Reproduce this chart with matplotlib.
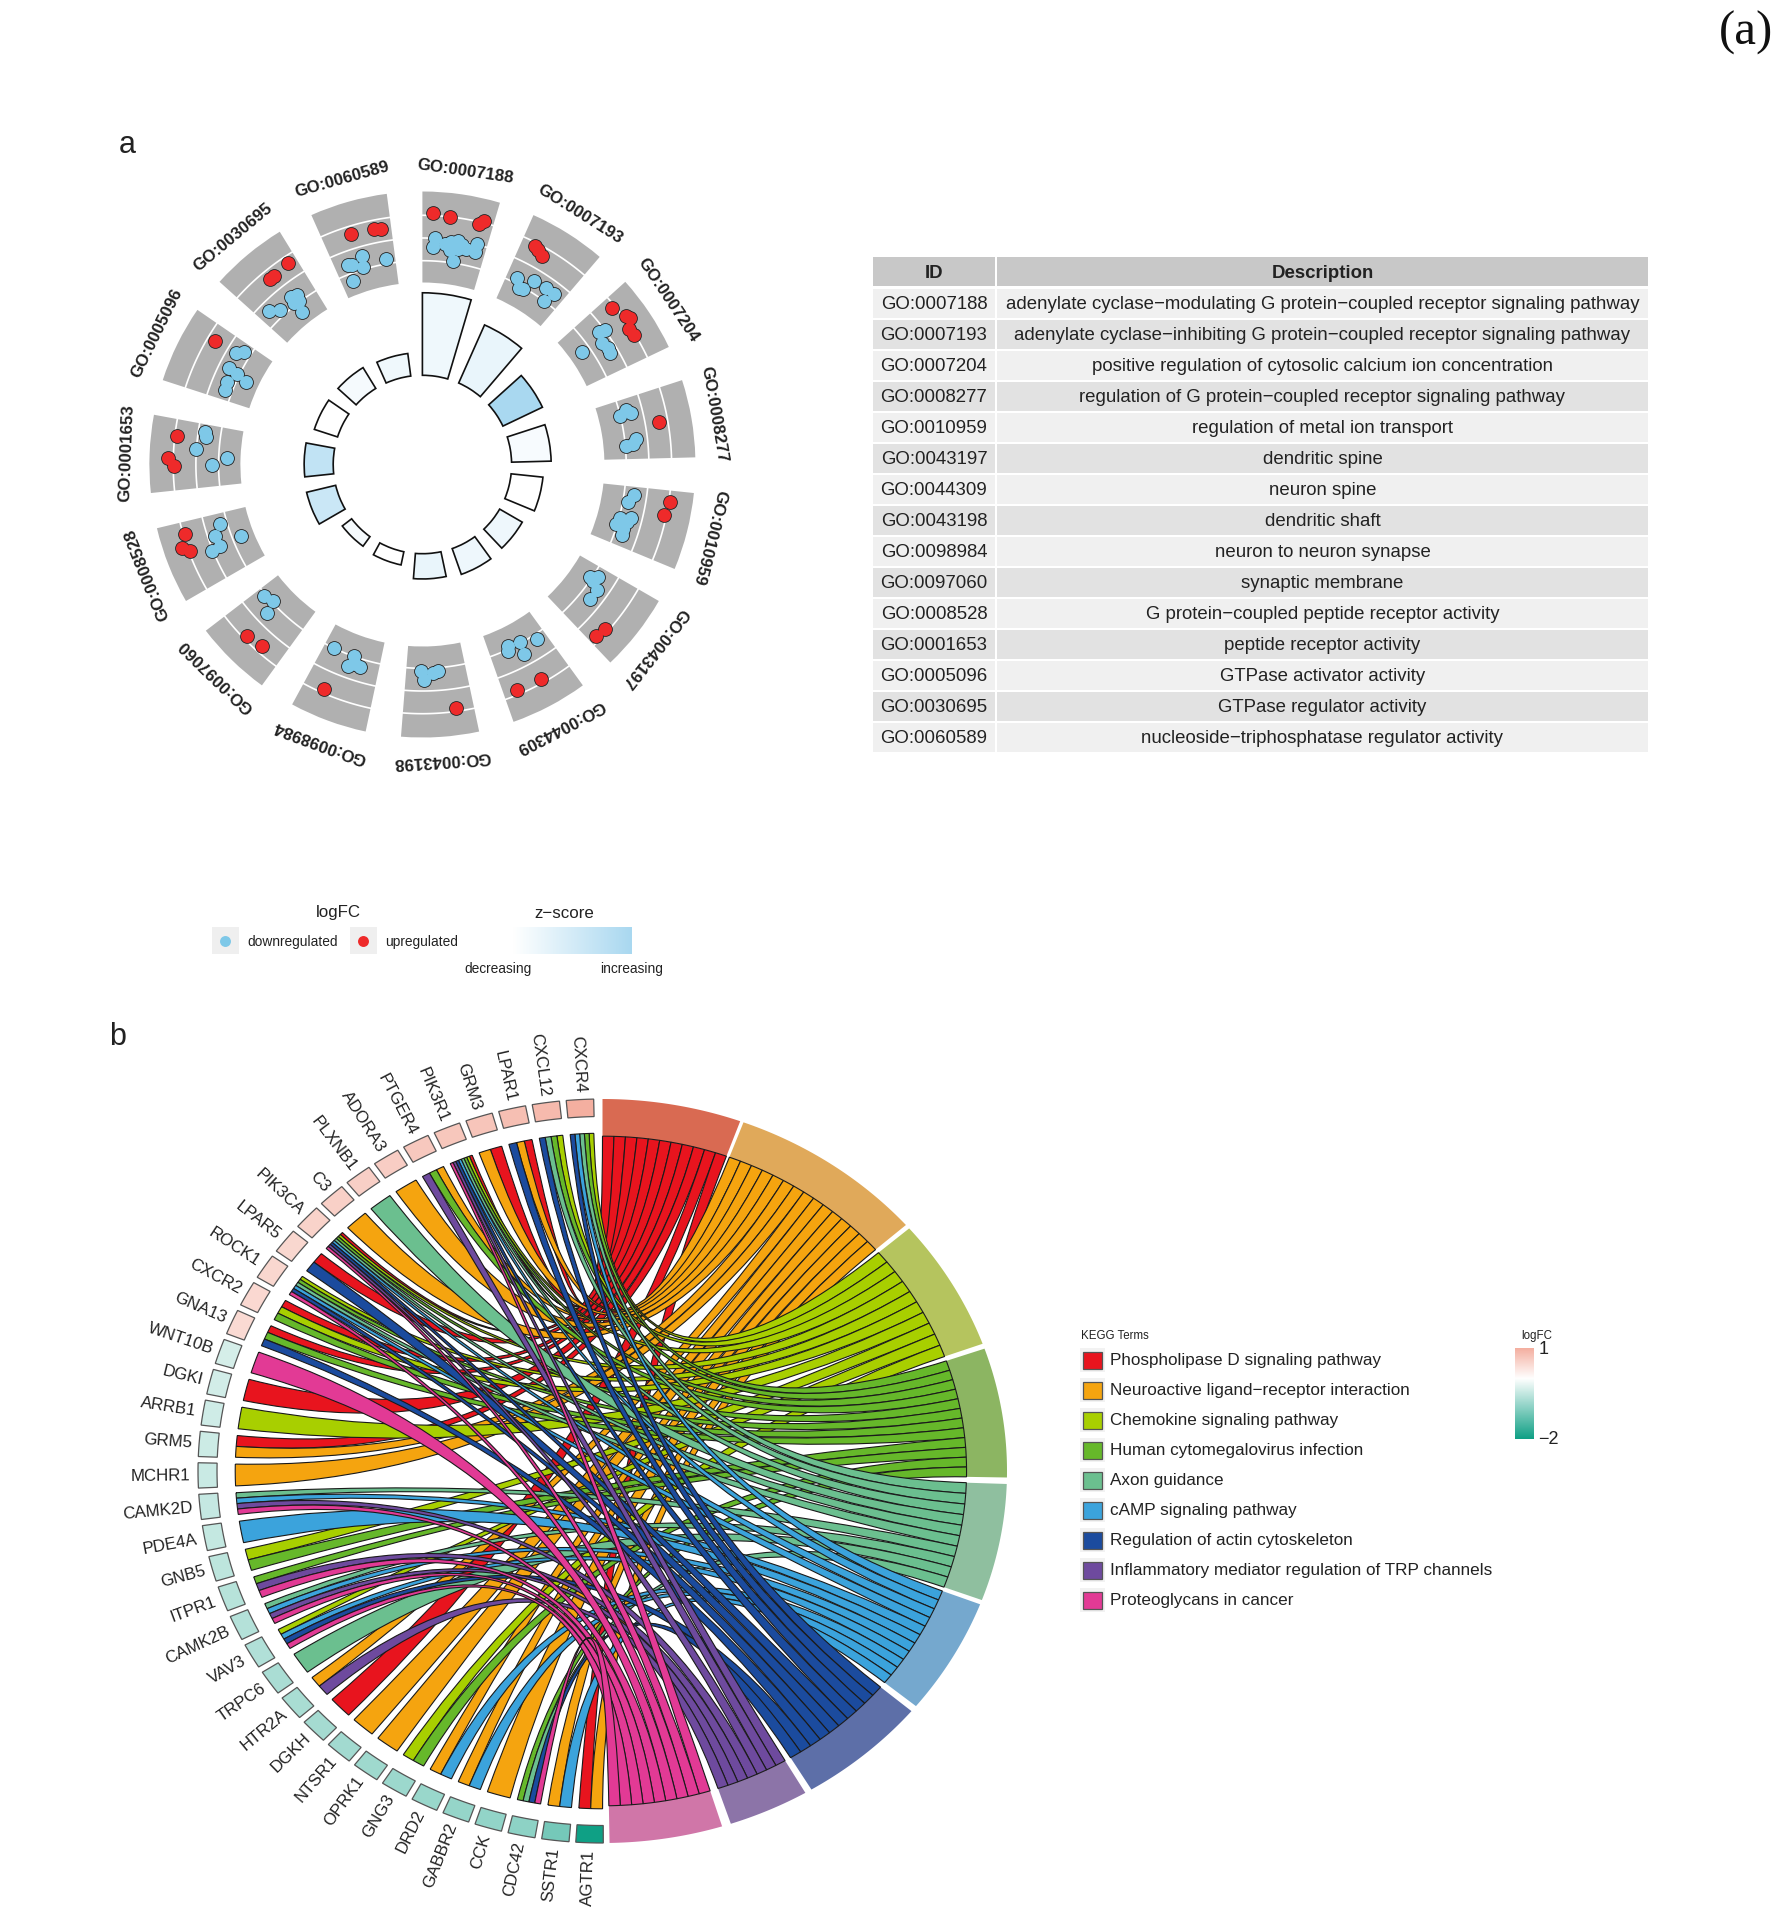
import numpy as np
import matplotlib
matplotlib.use("Agg")
import matplotlib.pyplot as plt
from matplotlib.colors import LinearSegmentedColormap
from matplotlib.patches import PathPatch, Polygon, Rectangle
from matplotlib.path import Path

plt.rcParams['font.family'] = ['Liberation Sans', 'DejaVu Sans']

# ---------- panel a: data ----------
go_ids = ["GO:0007188", "GO:0007193", "GO:0007204", "GO:0008277", "GO:0010959",
          "GO:0043197", "GO:0044309", "GO:0043198", "GO:0098984", "GO:0097060",
          "GO:0008528", "GO:0001653", "GO:0005096", "GO:0030695", "GO:0060589"]
go_desc = ["adenylate cyclase\u2212modulating G protein\u2212coupled receptor signaling pathway",
           "adenylate cyclase\u2212inhibiting G protein\u2212coupled receptor signaling pathway",
           "positive regulation of cytosolic calcium ion concentration",
           "regulation of G protein\u2212coupled receptor signaling pathway",
           "regulation of metal ion transport", "dendritic spine", "neuron spine",
           "dendritic shaft", "neuron to neuron synapse", "synaptic membrane",
           "G protein\u2212coupled peptide receptor activity", "peptide receptor activity",
           "GTPase activator activity", "GTPase regulator activity",
           "nucleoside\u2212triphosphatase regulator activity"]
bar_counts = [19.6, 15.1, 10.4, 9.4, 7.6, 6.2, 6.5, 6.0, 3.2, 2.8, 7.1, 6.9, 5.8, 5.8, 5.4]
bar_zscore = [.18, .25, 1.0, .10, 0.0, .20, .20, .25, 0.0, .12, .62, .72, 0.0, .12, .18]

up_angle = [2.4, 6.3, 13.2, 14.2, 27.2, 28.3, 29.8, 50.4, 53.9, 54.8, 56.6, 58.5, 79.7, 98.5, 101.8,
            134.7, 131.9, 157.3, 151, 172.1, 203.7, 225.6, 221.5, 253.7, 250.8, 249.6, 276.6, 271.5,
            269.6, 300.7, 326.3, 320.7, 321.9, 342.7, 348.3, 350.1]
up_logfc = [1.1, .98, .9, 1.1, .83, .75, .63, .85, 1.1, 1.2, .9, .95, .6, 1.05, .9,
            .78, .85, .8, .83, .85, .82, .83, .67, .9, 1.25, .95, .9, 1.25,
            .95, .67, .67, .6, .6, .67, .6, .55]
down_angle = [3.1, 2.7, 5.9, 7.4, 9, 10.2, 7.2, 9.3, 11.5, 13.8, 13.9, 8.4,
              26.9, 28.7, 29.8, 31.3, 35.1, 37.7, 36.7,
              54.8, 53.2, 53.6, 55.9, 57.9, 59.2,
              76.2, 75.1, 76.2, 84.7, 84.5, 83.1,
              98.3, 100.4, 104.4, 105.2, 107.2, 107.8, 109.5, 105.8,
              123.9, 122.8, 124.4, 125.7, 128.8,
              154.8, 155.4, 151.3, 151.7, 146.7,
              180.5, 179.6, 177.2, 175.7,
              205.7, 199.7, 200.2, 197.2, 198.8,
              230.3, 227.5, 226.4,
              248.4, 253.5, 251.1, 248, 247.7,
              278.6, 277.3, 273.8, 270, 272,
              300.8, 302.2, 296.5, 296.1, 295.1, 293, 290.6,
              315.1, 317.3, 321.7, 322, 323.6, 321.6, 323.1,
              350, 343.7, 343.2, 339.6, 340.7, 339.4]
down_logfc = [0, -.4, -.2, -.1, 0, -.15, -.45, -.35, -.3, -.35, .05, -.9,
              -.78, -1.1, -1.05, -.5, -.5, -.5, -1,
              -1.4, -.25, 0, -.4, -.35, -.35,
              -1, -.7, -.5, -.95, -.65, -.5,
              -.55, -.78, -.5, -.95, -1.05, -.7, -.65, -.6,
              -1.1, -.8, -.87, -.5, -.5,
              -1.15, -.95, -1.05, -.5, -.8,
              -.9, -.5, -.8, -.85,
              -1, -1, -.5, -.65, -.7,
              -.9, -1.05, -.5,
              -1.4, -.7, -.3, -.35, .05,
              -.3, -.35, 0, -.7, -1.35,
              -.42, -.68, -.45, -.9, -1.4, -.65, -.68,
              -.42, -.7, -1.4, -.6, -.7, -.9, -.95,
              -.78, -.42, -.9, -.6, -.65, -1.35]

# ---------- panel b: data ----------
kegg_terms = ["Phospholipase D signaling pathway", "Neuroactive ligand\u2212receptor interaction",
              "Chemokine signaling pathway", "Human cytomegalovirus infection", "Axon guidance",
              "cAMP signaling pathway", "Regulation of actin cytoskeleton",
              "Inflammatory mediator regulation of TRP channels", "Proteoglycans in cancer"]
kegg_colors = ["#E8141E", "#F5A40F", "#A8CF00", "#66B82A", "#6BBF8F",
               "#3BA3DC", "#1B4B9E", "#6E4A9E", "#E23A95"]
kegg_band = ["#D96A52", "#E0A95A", "#B5C45E", "#8CB562", "#8FBF9F",
             "#75A8CE", "#5D6FA8", "#8C74A8", "#D076A8"]
term_start = [0, 20.4, 49.3, 70.8, 92, 111, 130.2, 149.9, 162.8]
term_end = [19.9, 48.6, 70.0, 91, 110.3, 129.2, 148.9, 161.5, 179]
genes = ["CXCR4", "CXCL12", "LPAR1", "GRM3", "PIK3R1", "PTGER4", "ADORA3", "PLXNB1", "C3", "PIK3CA",
         "LPAR5", "ROCK1", "CXCR2", "GNA13", "WNT10B", "DGKI", "ARRB1", "GRM5", "MCHR1", "CAMK2D",
         "PDE4A", "GNB5", "ITPR1", "CAMK2B", "VAV3", "TRPC6", "HTR2A", "DGKH", "NTSR1", "OPRK1",
         "GNG3", "DRD2", "GABBR2", "CCK", "CDC42", "SSTR1", "AGTR1"]
gene_logfc = [1.0, .85, .8, .72, .7, .68, .62, .6, .58, .55, .5, .5, .48, .45,
              -.35, -.38, -.4, -.42, -.45, -.48, -.5, -.55, -.6, -.62, -.65, -.7, -.72,
              -.75, -.78, -.8, -.82, -.85, -.88, -.9, -.95, -1.15, -2]
gene_terms = [[2, 3, 4, 5, 6], [2, 3, 4, 6], [0, 1, 6], [0, 1], [0, 2, 3, 4, 5, 6, 7, 8], [1, 3, 7], [1], [4], [1],
              [0, 2, 3, 4, 5, 6, 7, 8], [0, 6], [2, 3, 4, 5, 6, 8], [0, 2, 3], [0, 3, 6], [8], [0], [2], [0, 1], [1],
              [4, 5, 7, 8], [5], [2, 3], [3, 7, 8], [4, 5, 7, 8], [2, 5, 6, 8], [4], [1, 7], [0], [1], [1],
              [2, 3], [1, 5], [1, 5], [1], [3, 4, 6, 8], [1, 5], [0, 1]]

# ---------- layout ----------
W, H = 1772, 1925
fig = plt.figure(figsize=(W / 100, H / 100), dpi=100)


def px_axes(x0, y0, x1, y1, **kw):
    return fig.add_axes([x0 / W, 1 - y1 / H, (x1 - x0) / W, (y1 - y0) / H], **kw)


canvas = px_axes(0, 0, W, H)
canvas.set_xlim(0, W)
canvas.set_ylim(H, 0)
canvas.axis('off')

canvas.text(1746, 33, "(a)", family='Liberation Serif', fontsize=35, ha='center', va='center', color='#111111')
canvas.text(127, 145, "a", fontsize=22, ha='center', va='center', color='#222222')
canvas.text(118, 1037, "b", fontsize=22, ha='center', va='center', color='#222222')

# ---------- panel a: GO circle ----------
cx, cy, half = 422.4, 464.5, 310
pol = px_axes(cx - half, cy - half, cx + half, cy + half, projection='polar')
pol.set_theta_zero_location('N')
pol.set_theta_direction(-1)
pol.set_rlim(0, half)
pol.axis('off')
pol.patch.set_alpha(0)

STEP, SPAN = 24.0, 16.5
R_IN, R_G0, R_G1, R_LAB = 89.2, 182, 273, 296
R_FC0, R_FC = 226.5, 22.7
zcmap = LinearSegmentedColormap.from_list("z", ["#FFFFFF", "#A9D8F0"])
for k, gid in enumerate(go_ids):
    start = k * STEP
    pol.bar(np.radians(start), R_G1 - R_G0, width=np.radians(SPAN), bottom=R_G0, align='edge',
            color='#B0B0B0', linewidth=0, zorder=1)
    th = np.radians(np.linspace(start, start + SPAN, 40))
    for fc in (-1, 0, 1):
        pol.plot(th, np.full_like(th, R_FC0 + fc * R_FC), color='white', lw=1.2, zorder=2)
    pol.bar(np.radians(start), bar_counts[k] * 4.21, width=np.radians(SPAN), bottom=R_IN, align='edge',
            color=zcmap(float(bar_zscore[k])), edgecolor='#111111', linewidth=1.2, zorder=2)
    mid = start + SPAN / 2
    pol.text(np.radians(mid), R_LAB, gid, rotation=-mid, rotation_mode='anchor', ha='center', va='center',
             fontsize=12.2, fontweight='bold', color='#222222', clip_on=False)
# outline first, fill above: overlapping points merge into one outlined blob
down_t, down_r = np.radians(down_angle), R_FC0 + np.array(down_logfc) * R_FC
up_t, up_r = np.radians(up_angle), R_FC0 + np.array(up_logfc) * R_FC
pol.scatter(down_t, down_r, s=112, c='#222222', linewidths=0, zorder=3)
pol.scatter(down_t, down_r, s=88, c='#7EC8E8', linewidths=0, zorder=4)
pol.scatter(up_t, up_r, s=112, c='#222222', linewidths=0, zorder=5)
pol.scatter(up_t, up_r, s=88, c='#EE2A2A', linewidths=0, zorder=6)

# ---------- table ----------
TX0, TX1, TX2, TX3 = 873, 995, 997, 1648
TFS = 13.4
canvas.add_patch(Rectangle((TX0, 257), TX1 - TX0, 29, fc='#C8C8C8', lw=0))
canvas.add_patch(Rectangle((TX2, 257), TX3 - TX2, 29, fc='#C8C8C8', lw=0))
canvas.text((TX0 + TX1) / 2, 273, "ID", fontsize=TFS, fontweight='bold', ha='center', va='center', color='#222222')
canvas.text((TX2 + TX3) / 2, 273, "Description", fontsize=TFS, fontweight='bold', ha='center', va='center', color='#222222')
for i, (gid, desc) in enumerate(zip(go_ids, go_desc)):
    yc = 303 + 31 * i
    fc = '#F0F0F0' if i % 2 == 0 else '#E2E2E2'
    canvas.add_patch(Rectangle((TX0, yc - 14.5), TX1 - TX0, 29, fc=fc, lw=0))
    canvas.add_patch(Rectangle((TX2, yc - 14.5), TX3 - TX2, 29, fc=fc, lw=0))
    canvas.text((TX0 + TX1) / 2, yc + 1.5, gid, fontsize=TFS, ha='center', va='center', color='#222222')
    canvas.text((TX2 + TX3) / 2, yc + 1.5, desc, fontsize=TFS, ha='center', va='center', color='#222222')

# ---------- panel a legend ----------
canvas.text(338, 913, "logFC", fontsize=12.2, ha='center', va='center', color='#222222')
canvas.text(564, 913, "z\u2212score", fontsize=12.2, ha='center', va='center', color='#222222')
for x0, col, lab in ((212, '#7EC8E8', "downregulated"), (350, '#EE2A2A', "upregulated")):
    canvas.add_patch(Rectangle((x0, 927), 27, 27, fc='#EFEFEF', lw=0))
    canvas.scatter([x0 + 13.5], [941], s=62, c=col, linewidths=0)
    canvas.text(x0 + 35, 942, lab, fontsize=9.9, ha='left', va='center', color='#222222')
zbar = px_axes(513, 927, 632, 954)
zbar.imshow(np.linspace(0, 1, 200)[None, :], aspect='auto', cmap=zcmap, vmin=0, vmax=1)
zbar.axis('off')
canvas.text(498, 968.5, "decreasing", fontsize=9.9, ha='center', va='center', color='#222222')
canvas.text(632, 968.5, "increasing", fontsize=9.9, ha='center', va='center', color='#222222')

# ---------- panel b: chord ----------
CX, CY, RX, RY, LIM = 602.5, 1471, 404.5, 372, 1.2
ch = px_axes(CX - LIM * RX, CY - LIM * RY, CX + LIM * RX, CY + LIM * RY)
ch.set_xlim(-LIM, LIM)
ch.set_ylim(-LIM, LIM)
ch.axis('off')
ch.patch.set_alpha(0)


def pt(theta, r):
    t = np.radians(theta)
    return (r * np.sin(t), r * np.cos(t))


def arc(a, b, r, n=12):
    return [pt(t, r) for t in np.linspace(a, b, n)]


R_TERM, R_GENE = 0.9, 0.908
for t0, t1, col in zip(term_start, term_end, kegg_band):
    ch.add_patch(Polygon(arc(t0, t1, 1.0, 40) + arc(t1, t0, R_TERM, 40), closed=True, fc=col, lw=0, zorder=1))

gene_center = [356.8 - 4.86 * i for i in range(len(genes))]
GW, BW = 3.7, 3.9
gene_cmap = LinearSegmentedColormap.from_list("fc", [(0, "#0FA085"), (2 / 3, "#FFFFFF"), (1, "#F4AFA0")])
for i, g in enumerate(genes):
    c = gene_center[i]
    ch.add_patch(Polygon(arc(c - BW / 2, c + BW / 2, 1.0, 5) + arc(c + BW / 2, c - BW / 2, 0.953, 5), closed=True,
                         fc=gene_cmap((gene_logfc[i] + 2) / 3), ec='#555555', lw=0.9, zorder=2))
    x, y = pt(c, 1.018)
    ch.text(x, y, g, rotation=270 - (c % 360), rotation_mode='anchor', ha='right', va='center',
            fontsize=12.2, color='#222222', clip_on=False)

for t in range(len(kegg_terms)):
    members = [i for i, ts in enumerate(gene_terms) if t in ts]
    w = (term_end[t] - term_start[t]) / len(members)
    for k, i in enumerate(members):
        ts = gene_terms[i]
        j = ts.index(t)
        gw = GW / len(ts)
        g_top = gene_center[i] + GW / 2 - j * gw
        g_bot = g_top - gw
        t_lo = term_start[t] + k * w
        t_hi = t_lo + w
        g_arc = arc(g_top, g_bot, R_GENE, 4)
        t_arc = arc(t_hi, t_lo, R_TERM, 6)
        verts = [g_arc[0]] + g_arc[1:] + [(0, 0), t_arc[0]] + t_arc[1:] + [(0, 0), g_arc[0]]
        codes = ([Path.MOVETO] + [Path.LINETO] * 3 + [Path.CURVE3, Path.CURVE3]
                 + [Path.LINETO] * 5 + [Path.CURVE3, Path.CURVE3])
        ch.add_patch(PathPatch(Path(verts, codes), fc=kegg_colors[t], ec='#1A1A1A', lw=0.8, zorder=3 + t))

# ---------- panel b legends ----------
canvas.text(1081, 1336, "KEGG Terms", fontsize=8.3, ha='left', va='center', color='#222222')
for i, (name, col) in enumerate(zip(kegg_terms, kegg_colors)):
    yc = 1360 + 30 * i
    canvas.add_patch(Rectangle((1080, yc - 12), 25, 24, fc='#F2F2F2', lw=0))
    canvas.add_patch(Rectangle((1083.5, yc - 8.5), 19, 17, fc=col, ec='#555555', lw=0.9))
    canvas.text(1110, yc + 0.5, name, fontsize=12.3, ha='left', va='center', color='#222222')
canvas.text(1537, 1336, "logFC", fontsize=8.3, ha='center', va='center', color='#222222')
cbar = px_axes(1515, 1348, 1534, 1439)
cbar.imshow(np.linspace(1, 0, 200)[:, None], aspect='auto', cmap=gene_cmap, vmin=0, vmax=1)
cbar.axis('off')
canvas.text(1539, 1349, "1", fontsize=13, ha='left', va='center', color='#222222')
canvas.text(1538, 1440, "\u22122", fontsize=13, ha='left', va='center', color='#222222')

fig.savefig("out.png", dpi=100, facecolor='white')
